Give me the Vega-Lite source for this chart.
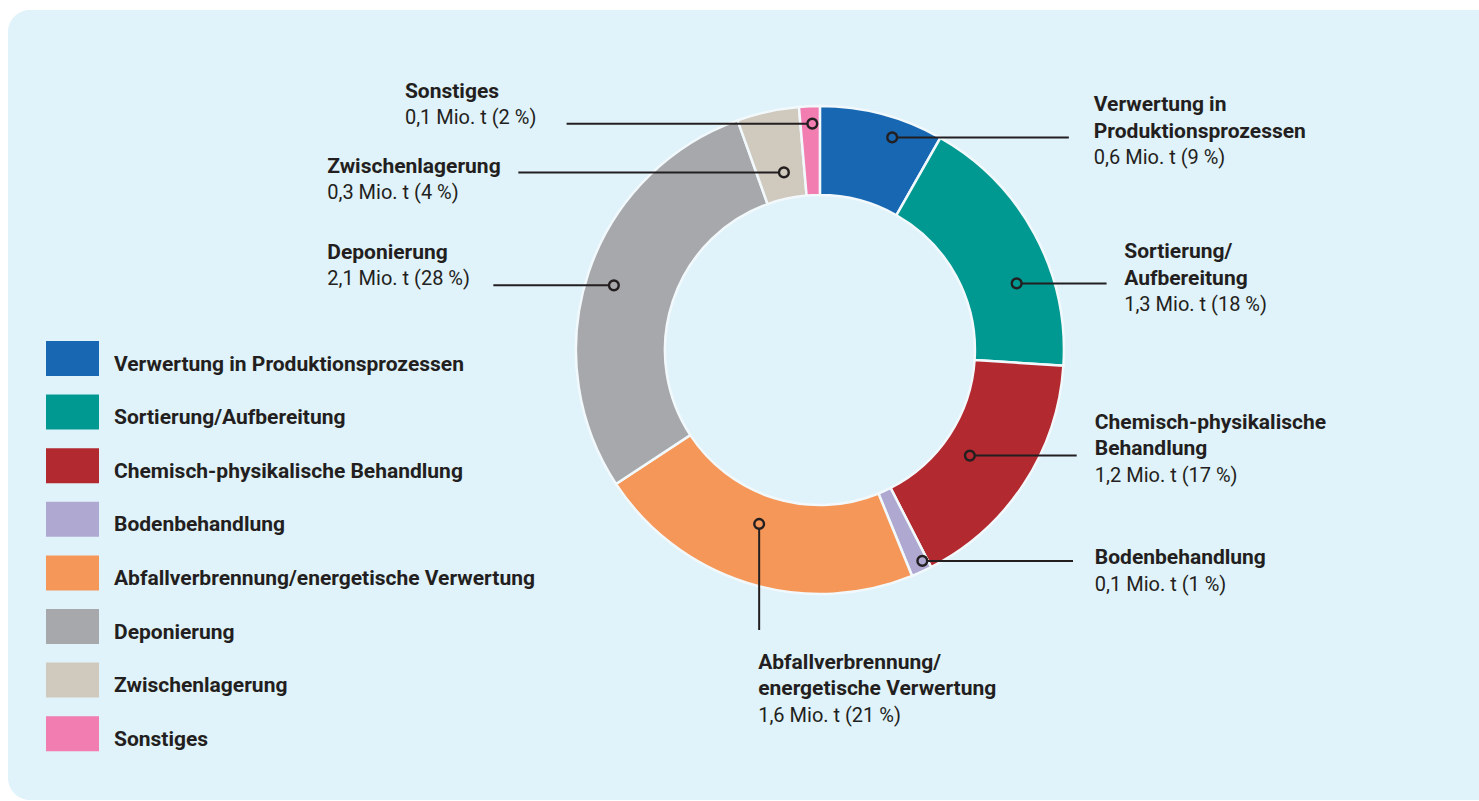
{
  "$schema": "https://vega.github.io/schema/vega-lite/v6.json",
  "width": 1493,
  "height": 790,
  "padding": {"left": 8, "top": 10, "right": -22, "bottom": 1},
  "autosize": {"type": "none"},
  "background": "#ffffff",
  "config": {
    "view": {"fill": "#e0f2fa", "stroke": null, "cornerRadius": 22},
    "font": "Roboto",
    "legend": {
      "orient": "none",
      "legendX": 38,
      "legendY": 328,
      "title": null,
      "symbolType": "M-1,-0.886L1,-0.886L1,0.434L-1,0.434Z",
      "symbolSize": 2809,
      "symbolStrokeWidth": 0,
      "symbolOpacity": 1,
      "labelFont": "Roboto",
      "labelFontSize": 21,
      "labelFontWeight": "bold",
      "labelColor": "#231f20",
      "labelOffset": 15,
      "labelLimit": 700,
      "labelBaseline": "middle",
      "rowPadding": 14.6,
      "padding": 0
    }
  },
  "data": {
    "values": [
      {"category": "Verwertung in Produktionsprozessen", "nameTop": "Verwertung in", "nameBottom": "Produktionsprozessen", "value": 0.6, "share": "0,6 Mio. t (9 %)", "dotX": 29.5, "dotY": 86.8, "endX": 101.6, "endY": 86.8, "textX": 111.8, "textY": 75.9},
      {"category": "Sortierung/Aufbereitung", "nameTop": "Sortierung/", "nameBottom": "Aufbereitung", "value": 1.3, "share": "1,3 Mio. t (18 %)", "dotX": 80.3, "dotY": 27.2, "endX": 117.0, "endY": 27.2, "textX": 124.2, "textY": 16.0},
      {"category": "Chemisch-physikalische Behandlung", "nameTop": "Chemisch-physikalische", "nameBottom": "Behandlung", "value": 1.2, "share": "1,2 Mio. t (17 %)", "dotX": 61.2, "dotY": -43.1, "endX": 104.8, "endY": -43.1, "textX": 112.2, "textY": -53.8},
      {"category": "Bodenbehandlung", "nameTop": "", "nameBottom": "Bodenbehandlung", "value": 0.1, "share": "0,1 Mio. t (1 %)", "dotX": 41.8, "dotY": -86.1, "endX": 103.3, "endY": -86.1, "textX": 112.2, "textY": -98.2},
      {"category": "Abfallverbrennung/energetische Verwertung", "nameTop": "Abfallverbrennung/", "nameBottom": "energetische Verwertung", "value": 1.6, "share": "1,6 Mio. t (21 %)", "dotX": -24.8, "dotY": -71.0, "endX": -24.8, "endY": -114.3, "textX": -25.2, "textY": -151.7},
      {"category": "Deponierung", "nameTop": "", "nameBottom": "Deponierung", "value": 2.1, "share": "2,1 Mio. t (28 %)", "dotX": -84.1, "dotY": 26.4, "endX": -133.3, "endY": 26.4, "textX": -201.1, "textY": 26.5},
      {"category": "Zwischenlagerung", "nameTop": "", "nameBottom": "Zwischenlagerung", "value": 0.3, "share": "0,3 Mio. t (4 %)", "dotX": -14.7, "dotY": 72.5, "endX": -123.1, "endY": 72.5, "textX": -201.1, "textY": 61.5},
      {"category": "Sonstiges", "nameTop": "", "nameBottom": "Sonstiges", "value": 0.1, "share": "0,1 Mio. t (2 %)", "dotX": -3.1, "dotY": 92.4, "endX": -103.4, "endY": 92.4, "textX": -169.4, "textY": 92.1}
    ]
  },
  "transform": [{"window": [{"op": "row_number", "as": "rank"}]}],
  "layer": [
    {
      "mark": {"type": "arc", "innerRadius": 155, "outerRadius": 244, "stroke": "#f2f9fc", "strokeWidth": 2.5},
      "encoding": {
        "x": {"datum": 0, "type": "quantitative", "scale": {"domain": [-331.4, 278.0], "nice": false, "zero": false}, "axis": null},
        "y": {"datum": 0, "type": "quantitative", "scale": {"domain": [-183.7, 138.8], "nice": false, "zero": false}, "axis": null},
        "theta": {"field": "value", "type": "quantitative", "stack": true},
        "order": {"field": "rank", "type": "quantitative"},
        "color": {
          "field": "category",
          "type": "nominal",
          "scale": {
            "domain": ["Verwertung in Produktionsprozessen", "Sortierung/Aufbereitung", "Chemisch-physikalische Behandlung", "Bodenbehandlung", "Abfallverbrennung/energetische Verwertung", "Deponierung", "Zwischenlagerung", "Sonstiges"],
            "range": ["#1767b3", "#009991", "#b22930", "#afa9d2", "#f59758", "#a7a8ab", "#d0c9be", "#f17db1"]
          }
        }
      }
    },
    {
      "mark": {"type": "rule", "color": "#231f20", "strokeWidth": 2},
      "encoding": {
        "x": {"field": "dotX", "type": "quantitative", "scale": {"domain": [-331.4, 278.0], "nice": false, "zero": false}, "axis": null},
        "y": {"field": "dotY", "type": "quantitative", "scale": {"domain": [-183.7, 138.8], "nice": false, "zero": false}, "axis": null},
        "x2": {"field": "endX"},
        "y2": {"field": "endY"}
      }
    },
    {
      "mark": {"type": "point", "shape": "circle", "filled": true, "size": 95, "stroke": "#231f20", "strokeWidth": 2.4, "opacity": 1},
      "encoding": {
        "x": {"field": "dotX", "type": "quantitative", "scale": {"domain": [-331.4, 278.0], "nice": false, "zero": false}, "axis": null},
        "y": {"field": "dotY", "type": "quantitative", "scale": {"domain": [-183.7, 138.8], "nice": false, "zero": false}, "axis": null},
        "color": {"field": "category", "type": "nominal"}
      }
    },
    {
      "mark": {"type": "text", "align": "left", "baseline": "alphabetic", "dy": -53, "font": "Roboto", "fontSize": 21, "fontWeight": "bold", "color": "#231f20"},
      "encoding": {
        "x": {"field": "textX", "type": "quantitative", "scale": {"domain": [-331.4, 278.0], "nice": false, "zero": false}, "axis": null},
        "y": {"field": "textY", "type": "quantitative", "scale": {"domain": [-183.7, 138.8], "nice": false, "zero": false}, "axis": null},
        "text": {"field": "nameTop"}
      }
    },
    {
      "mark": {"type": "text", "align": "left", "baseline": "alphabetic", "dy": -26.3, "font": "Roboto", "fontSize": 21, "fontWeight": "bold", "color": "#231f20"},
      "encoding": {
        "x": {"field": "textX", "type": "quantitative", "scale": {"domain": [-331.4, 278.0], "nice": false, "zero": false}, "axis": null},
        "y": {"field": "textY", "type": "quantitative", "scale": {"domain": [-183.7, 138.8], "nice": false, "zero": false}, "axis": null},
        "text": {"field": "nameBottom"}
      }
    },
    {
      "mark": {"type": "text", "align": "left", "baseline": "alphabetic", "font": "Roboto", "fontSize": 20, "fontWeight": "normal", "color": "#231f20"},
      "encoding": {
        "x": {"field": "textX", "type": "quantitative", "scale": {"domain": [-331.4, 278.0], "nice": false, "zero": false}, "axis": null},
        "y": {"field": "textY", "type": "quantitative", "scale": {"domain": [-183.7, 138.8], "nice": false, "zero": false}, "axis": null},
        "text": {"field": "share"}
      }
    }
  ]
}
